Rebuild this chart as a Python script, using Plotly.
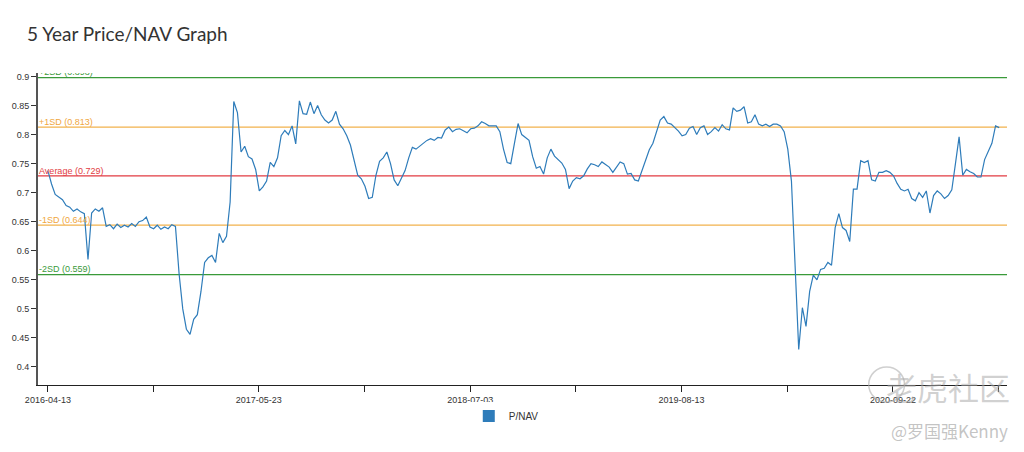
import pandas as pd
import plotly.graph_objects as go

# ---- data (weekly readings of P/NAV) ----
start_date = "2016-04-13"
pnav = [
    0.738, 0.715, 0.697, 0.692, 0.688, 0.678, 0.675, 0.668, 0.672, 0.667,
    0.664, 0.585, 0.665, 0.672, 0.668, 0.674, 0.642, 0.645, 0.638, 0.646,
    0.640, 0.644, 0.641, 0.647, 0.642, 0.650, 0.652, 0.658, 0.641, 0.638,
    0.644, 0.637, 0.641, 0.638, 0.645, 0.642, 0.560, 0.500, 0.465, 0.456,
    0.482, 0.490, 0.530, 0.580, 0.588, 0.592, 0.580, 0.630, 0.614, 0.625,
    0.684, 0.857, 0.838, 0.770, 0.780, 0.762, 0.758, 0.740, 0.703, 0.710,
    0.720, 0.752, 0.745, 0.760, 0.798, 0.807, 0.800, 0.815, 0.784, 0.858,
    0.836, 0.835, 0.856, 0.836, 0.850, 0.834, 0.825, 0.820, 0.825, 0.840,
    0.818, 0.810, 0.798, 0.782, 0.757, 0.730, 0.724, 0.711, 0.690, 0.692,
    0.730, 0.754, 0.760, 0.770, 0.750, 0.722, 0.712, 0.724, 0.738, 0.760,
    0.778, 0.775, 0.780, 0.786, 0.790, 0.793, 0.790, 0.795, 0.794, 0.808,
    0.813, 0.805, 0.809, 0.810, 0.806, 0.803, 0.810, 0.811, 0.815, 0.822,
    0.819, 0.815, 0.815, 0.815, 0.805, 0.775, 0.752, 0.750, 0.785, 0.819,
    0.800, 0.795, 0.790, 0.762, 0.742, 0.745, 0.732, 0.760, 0.775, 0.763,
    0.757, 0.751, 0.740, 0.707, 0.720, 0.726, 0.724, 0.729, 0.741, 0.750,
    0.748, 0.745, 0.753, 0.748, 0.744, 0.735, 0.745, 0.753, 0.750, 0.732,
    0.733, 0.722, 0.720, 0.737, 0.755, 0.774, 0.785, 0.806, 0.825, 0.831,
    0.820, 0.818, 0.812, 0.806, 0.798, 0.800, 0.811, 0.814, 0.800, 0.812,
    0.815, 0.800, 0.805, 0.812, 0.806, 0.817, 0.810, 0.808, 0.846, 0.840,
    0.842, 0.848, 0.820, 0.822, 0.834, 0.818, 0.815, 0.818, 0.814, 0.818,
    0.818, 0.815, 0.805, 0.775, 0.720, 0.580, 0.430, 0.502, 0.470, 0.530,
    0.558, 0.550, 0.568, 0.570, 0.580, 0.575, 0.640, 0.664, 0.640, 0.635,
    0.616, 0.706, 0.706, 0.755, 0.752, 0.755, 0.722, 0.720, 0.735, 0.735,
    0.738, 0.735, 0.729, 0.716, 0.706, 0.703, 0.706, 0.690, 0.686, 0.700,
    0.692, 0.703, 0.665, 0.695, 0.703, 0.698, 0.690, 0.695, 0.705, 0.750,
    0.796, 0.730, 0.740, 0.736, 0.733, 0.727, 0.727, 0.757, 0.772, 0.785,
    0.815, 0.812,
]
dates = pd.date_range(start_date, periods=len(pnav), freq="7D")

level_names = ["+2SD", "+1SD", "Average", "-1SD", "-2SD"]
level_values = [0.898, 0.813, 0.729, 0.644, 0.559]
level_colors = ["#3a9a3a", "#f2b24c", "#e23b42", "#f2b24c", "#3a9a3a"]
label_colors = ["#3a9a3a", "#f0a640", "#e23b42", "#f0a640", "#3a9a3a"]

x_tick_vals = ["2016-04-13", "2016-11-02", "2017-05-23", "2017-12-12", "2018-07-03",
               "2019-01-22", "2019-08-13", "2020-03-03", "2020-09-22", "2021-04-13"]
x_tick_text = ["2016-04-13", "", "2017-05-23", "", "2018-07-03",
               "", "2019-08-13", "", "2020-09-22", ""]
y_tick_vals = [0.4, 0.45, 0.5, 0.55, 0.6, 0.65, 0.7, 0.75, 0.8, 0.85, 0.9]
y_tick_text = ["0.4", "0.45", "0.5", "0.55", "0.6", "0.65", "0.7", "0.75", "0.8", "0.85", "0.9"]

x_range = ["2016-03-25", "2021-04-29"]
y_range = [0.369, 0.906]
label_x = "2016-03-27"

LINE = "#2e7cba"
FONT = "Liberation Sans, Arial, sans-serif"

fig = go.Figure()

fig.add_trace(go.Scatter(
    x=dates, y=pnav, mode="lines", line=dict(color=LINE, width=1.2),
    showlegend=False, name="P/NAV",
))
# legend entry with a square swatch
fig.add_trace(go.Scatter(
    x=[None], y=[None], mode="markers", name="P/NAV",
    marker=dict(symbol="square", size=10, color=LINE),
))

for name, val, lc, tc in zip(level_names, level_values, level_colors, label_colors):
    fig.add_shape(type="line", xref="x domain", yref="y", x0=0, x1=1, y0=val, y1=val,
                  line=dict(color=lc, width=1.3), layer="below")
    fig.add_trace(go.Scatter(
        x=[label_x], y=[val], mode="text", text=[f"{name} ({val:.3f})"],
        textposition="top right", textfont=dict(color=tc, size=9, family=FONT),
        cliponaxis=True, showlegend=False, hoverinfo="skip",
    ))

# watermark (logo ring + text)
fig.add_shape(type="circle", xref="paper", yref="paper",
              x0=(868 - 33) / 974, x1=(904 - 33) / 974,
              y0=(385 - 402) / 312, y1=(385 - 367) / 312,
              line=dict(color="rgba(175,175,175,0.6)", width=1.5))
fig.add_annotation(xref="paper", yref="paper", x=(1012 - 33) / 974, y=(385 - 386) / 312,
                   xanchor="right", yanchor="middle",
                   text="老虎社区", showarrow=False,
                   font=dict(size=31, color="rgba(170,170,170,0.55)", family="Noto Sans CJK SC"))
fig.add_annotation(xref="paper", yref="paper", x=(1010 - 33) / 974, y=(385 - 430) / 312,
                   xanchor="right", yanchor="middle",
                   text="@罗国强Kenny", showarrow=False,
                   font=dict(size=17, color="rgba(170,170,170,0.7)", family="Noto Sans CJK SC"))

fig.update_layout(
    width=1024, height=452, autosize=False,
    margin=dict(l=33, r=17, t=73, b=67),
    paper_bgcolor="white", plot_bgcolor="white",
    title=dict(text="5 Year Price/NAV Graph", x=27 / 1024, xanchor="left", xref="container",
               y=1 - 34 / 452, yanchor="middle",
               font=dict(family="Lato, Open Sans, sans-serif", size=19, color="#333")),
    font=dict(family=FONT, size=9, color="#333"),
    legend=dict(orientation="h", x=(466 - 33) / 974, xanchor="left", y=(385 - 416) / 312,
                yanchor="middle", itemwidth=30,
                font=dict(size=10, color="#333", family=FONT), itemsizing="constant"),
    xaxis=dict(range=x_range, tickmode="array", tickvals=x_tick_vals, ticktext=x_tick_text,
               showgrid=False, zeroline=False, showline=True, linecolor="#222", linewidth=1,
               ticks="outside", ticklen=6, tickcolor="#222", tickwidth=1,
               tickfont=dict(size=9, color="#333", family=FONT)),
    yaxis=dict(range=y_range, tickmode="array", tickvals=y_tick_vals, ticktext=y_tick_text,
               showgrid=False, zeroline=False, showline=True, linecolor="#555", linewidth=2,
               ticks="outside", ticklen=5, tickcolor="#333", tickwidth=1,
               tickfont=dict(size=9, color="#333", family=FONT)),
    hovermode=False,
)

fig.write_html("out.html", config={"displayModeBar": False},
               post_script="document.body.style.margin='0px';")
